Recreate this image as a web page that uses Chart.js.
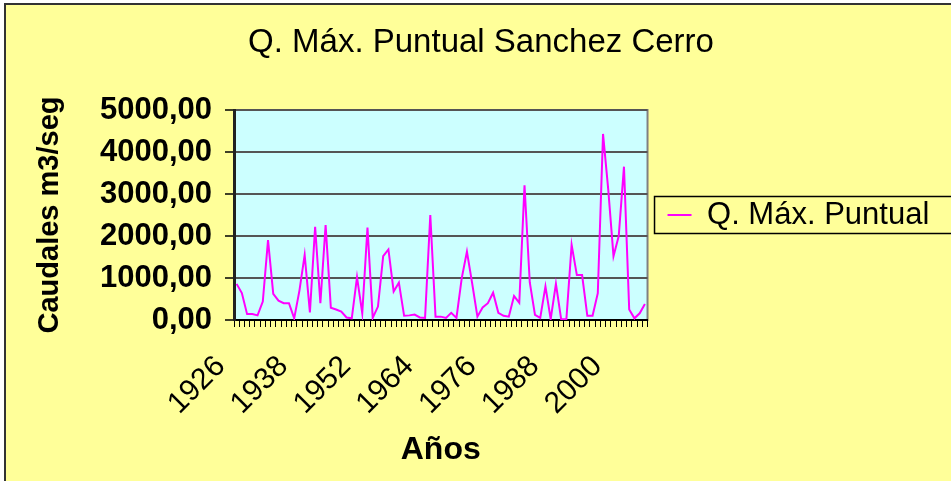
<!DOCTYPE html>
<html>
<head>
<meta charset="utf-8">
<title>Q. Máx. Puntual Sanchez Cerro</title>
<script src="https://cdn.jsdelivr.net/npm/chart.js@4"></script>
<style>
  html, body { margin: 0; padding: 0; background: #fff; }
  #wrap { position: relative; width: 951px; height: 481px; }
</style>
</head>
<body>
<div id="wrap"><canvas id="chart"></canvas></div>
<script>
const years = [
    1926, 1927, 1928, 1929, 1930, 1931, 1932, 1933, 1934, 1935, 1936, 1937,
    1938, 1939, 1940, 1941, 1944, 1945, 1946, 1947, 1948, 1949, 1950, 1951,
    1952, 1953, 1954, 1955, 1956, 1957, 1958, 1959, 1960, 1961, 1962, 1963,
    1964, 1965, 1966, 1967, 1968, 1969, 1970, 1971, 1972, 1973, 1974, 1975,
    1976, 1977, 1978, 1979, 1980, 1981, 1982, 1983, 1984, 1985, 1986, 1987,
    1988, 1989, 1990, 1991, 1992, 1993, 1994, 1995, 1996, 1997, 1998, 1999,
    2000, 2001, 2002, 2003, 2004, 2005, 2006
];

const caudales = [
    860, 640, 140, 140, 110, 440, 1900, 620, 460, 400, 400, 40,
    700, 1550, 180, 2220, 400, 2260, 290, 250, 200, 60, 40, 1020,
    160, 2200, 50, 320, 1520, 1680, 680, 890, 100, 110, 130, 60,
    50, 2500, 80, 80, 50, 170, 50, 990, 1630, 870, 80, 300,
    400, 650, 170, 100, 80, 570, 410, 3210, 900, 120, 50, 800,
    20, 860, 20, 20, 1790, 1070, 1070, 100, 100, 640, 4430, 3100,
    1520, 2000, 3650, 250, 40, 160, 380
];

const yearLabels = [1926, 1938, 1952, 1964, 1976, 1988, 2000];
const yTicks = [0, 1000, 2000, 3000, 4000, 5000];
const yTickLabels = ['0,00', '1000,00', '2000,00', '3000,00', '4000,00', '5000,00'];

const seriesName = 'Q. Máx. Puntual';
const chartTitle = 'Q. Máx. Puntual Sanchez Cerro';

Chart.defaults.font.family = "'Liberation Sans', Arial, sans-serif";
Chart.defaults.color = '#000';

// background, plot area fill and the legend frame
const backdrop = {
    id: 'backdrop',
    afterLayout(chart) {
        // legend text runs out to the edge instead of being clipped
        const lg = chart.legend;
        lg.right = chart.width + 20;
        lg.width = lg.right - lg.left;
        // title centred over the whole frame, not the padded box
        const t = chart.titleBlock;
        t.left = 11;
        t.right = chart.width;
        t.width = t.right - t.left;
    },
    beforeDraw(chart) {
        const ctx = chart.ctx;
        const a = chart.chartArea;
        ctx.save();
        ctx.fillStyle = '#fff';
        ctx.fillRect(0, 0, chart.width, chart.height);
        ctx.fillStyle = '#FFFF99';
        ctx.fillRect(5, 4, chart.width + 10, chart.height + 10);
        ctx.strokeStyle = '#333';
        ctx.lineWidth = 2;
        ctx.strokeRect(5, 4, chart.width + 10, chart.height + 10);
        ctx.fillStyle = '#CCFFFF';
        ctx.fillRect(a.left, a.top, a.right - a.left, a.bottom - a.top);
        ctx.strokeStyle = '#808080';
        ctx.lineWidth = 2;
        ctx.strokeRect(a.left, a.top, a.right - a.left, a.bottom - a.top);
        ctx.restore();
    },
    afterDraw(chart) {
        const hb = chart.legend.legendHitBoxes[0];
        if (!hb) return;
        const ctx = chart.ctx;
        ctx.save();
        ctx.strokeStyle = '#000';
        ctx.lineWidth = 1.5;
        ctx.strokeRect(hb.left - 13, hb.top - 3, 400, hb.height + 6);
        ctx.restore();
    }
};

new Chart(document.getElementById('chart'), {
    type: 'line',
    data: {
        labels: years,
        datasets: [{
            label: seriesName,
            data: caudales,
            borderColor: '#FF00FF',
            backgroundColor: '#FF00FF',
            borderWidth: 2,
            pointRadius: 0,
            tension: 0,
            fill: false
        }]
    },
    options: {
        responsive: true,
        maintainAspectRatio: false,
        animation: false,
        events: [],
        layout: {
            padding: { left: 20, right: 94.3, top: 5, bottom: 5 }
        },
        plugins: {
            title: {
                display: true,
                text: chartTitle,
                font: { size: 33, weight: 'normal' },
                padding: { top: 18, bottom: 47.4 }
            },
            legend: {
                position: 'right',
                fullSize: false,
                labels: {
                    usePointStyle: true,
                    pointStyle: 'line',
                    pointStyleWidth: 24,
                    padding: 20,
                    font: { size: 31 }
                }
            },
            tooltip: { enabled: false }
        },
        scales: {
            x: {
                offset: true,
                grid: {
                    offset: true,
                    drawOnChartArea: false,
                    drawTicks: true,
                    tickLength: 7,
                    tickColor: '#000',
                    tickWidth: 1
                },
                border: { color: '#000', width: 2 },
                ticks: {
                    autoSkip: false,
                    minRotation: 45,
                    maxRotation: 45,
                    padding: 22,
                    labelOffset: -16,
                    font: { size: 30 },
                    callback: function (value, index) {
                        const y = years[index];
                        return yearLabels.includes(y) ? String(y) : '';
                    }
                },
                title: {
                    display: true,
                    text: 'Años',
                    font: { size: 32, weight: 'bold' },
                    padding: { top: 0, bottom: 7 }
                },
                afterFit: function (scale) {
                    scale.height = 156;
                }
            },
            y: {
                min: 0,
                max: 5000,
                grid: {
                    color: '#555',
                    lineWidth: 2,
                    tickLength: 9,
                    tickColor: '#000',
                    tickWidth: 1.5
                },
                border: { color: '#222', width: 3 },
                ticks: {
                    stepSize: 1000,
                    padding: 13,
                    font: { size: 31, weight: 'bold' },
                    callback: function (value) {
                        return yTickLabels[yTicks.indexOf(value)];
                    }
                },
                title: {
                    display: true,
                    text: 'Caudales m3/seg',
                    font: { size: 29, weight: 'bold' },
                    padding: { top: 12.6, bottom: 0 }
                },
                afterFit: function (scale) {
                    scale.width = 214;
                }
            }
        }
    },
    plugins: [backdrop]
});
</script>
</body>
</html>
